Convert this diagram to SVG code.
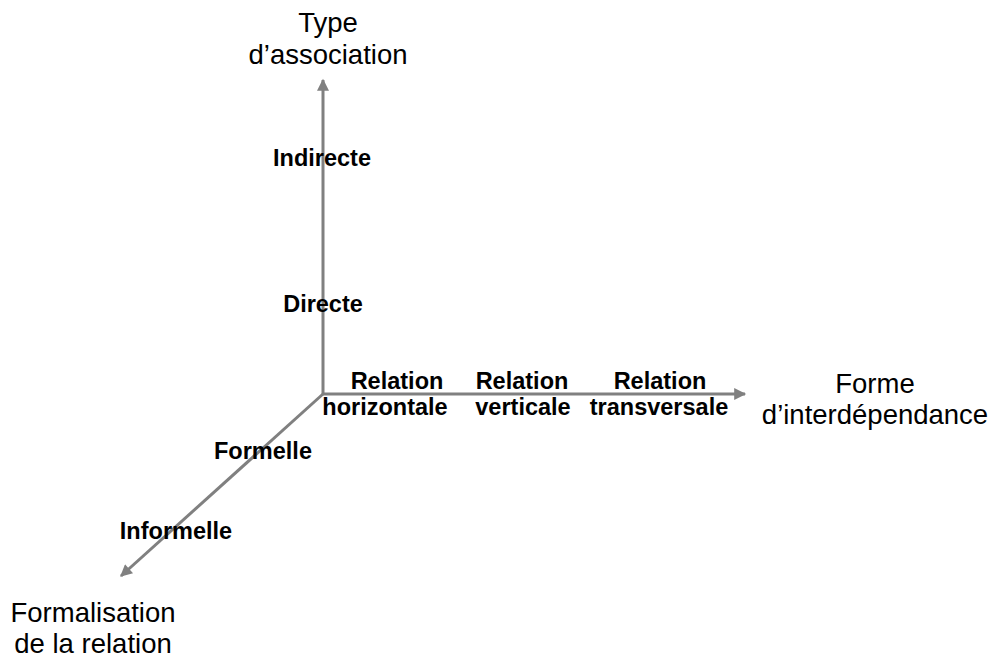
<svg xmlns="http://www.w3.org/2000/svg" width="992" height="659" viewBox="0 0 992 659">
<style>
.t{font-family:"Liberation Sans",Arial,sans-serif;font-size:27.5px;fill:#000;text-anchor:middle}
.b{font-family:"Liberation Sans",Arial,sans-serif;font-size:23.5px;font-weight:bold;fill:#000;text-anchor:middle}
.ax{stroke:#808080;stroke-width:3;fill:none}
</style>
<defs>
<marker id="ah" viewBox="0 0 10 10" refX="9" refY="5" markerWidth="5" markerHeight="4" orient="auto" markerUnits="strokeWidth">
<path d="M0,0 L10,5 L0,10 z" fill="#808080"/>
</marker>
</defs>
<rect width="992" height="659" fill="#fff"/>
<g id="connectors">
<line class="ax" x1="323" y1="394" x2="323" y2="80" marker-end="url(#ah)"/>
<line class="ax" x1="322" y1="394" x2="745" y2="394" marker-end="url(#ah)"/>
<line class="ax" x1="323" y1="394" x2="121" y2="576" marker-end="url(#ah)"/>
</g>
<g id="axis-type"><text class="t" x="328" y="32">Type</text><text class="t" x="328" y="64">d’association</text></g>
<g id="axis-forme"><text class="t" x="875" y="393">Forme</text><text class="t" x="875" y="424">d’interdépendance</text></g>
<g id="axis-formalisation"><text class="t" x="93" y="622">Formalisation</text><text class="t" x="93" y="653">de la relation</text></g>
<g id="indirecte"><text class="b" x="322" y="166">Indirecte</text></g>
<g id="directe"><text class="b" x="323" y="312">Directe</text></g>
<g id="rel-horizontale"><text class="b" x="397" y="389">Relation</text><text class="b" x="385" y="415">horizontale</text></g>
<g id="rel-verticale"><text class="b" x="522" y="389">Relation</text><text class="b" x="523" y="415">verticale</text></g>
<g id="rel-transversale"><text class="b" x="660" y="389">Relation</text><text class="b" x="659" y="415">transversale</text></g>
<g id="formelle"><text class="b" x="263" y="459">Formelle</text></g>
<g id="informelle"><text class="b" x="176" y="539">Informelle</text></g>
</svg>
